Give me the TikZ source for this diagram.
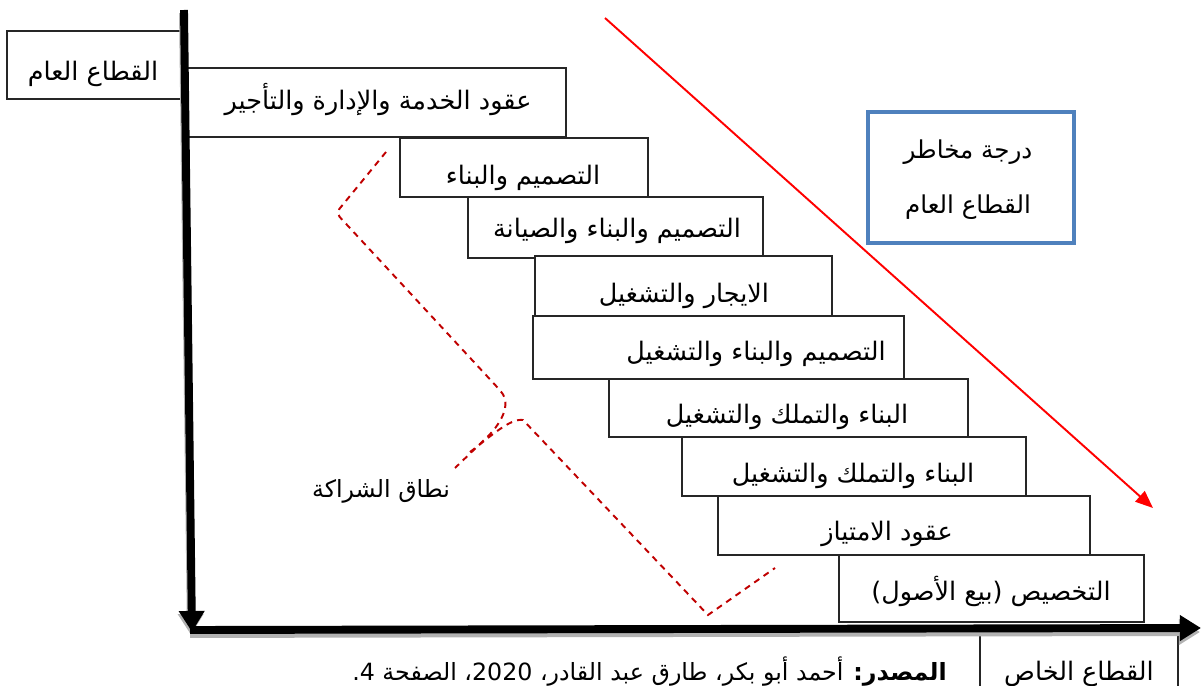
\documentclass[tikz,border=0pt]{standalone}
\usepackage{fontspec}
\setmainfont{DejaVu Sans}
\newfontfamily\arabicfont[Script=Arabic]{DejaVu Sans}
\TeXXeTstate=1
\usetikzlibrary{arrows.meta,calc}
\newcommand{\artxt}[1]{\arabicfont\beginR #1\endR}
\definecolor{riskblue}{HTML}{4F81BD}
\definecolor{darkred}{HTML}{C00000}
\tikzset{
  box/.style={draw=black!85, line width=0.8pt, fill=white, inner sep=0pt},
  lbl/.style={font=\arabicfont\fontsize{14.5}{17}\selectfont, inner sep=0pt, anchor=base},
  small/.style={font=\arabicfont\fontsize{13.5}{16}\selectfont},
  axis/.style={line width=4.5pt, black, -{Triangle[length=12pt,width=14pt]}},
  axshadow/.style={line width=4.5pt, black!30, -{Triangle[length=12pt,width=14pt]}},
  brace/.style={darkred, line width=1.1pt, dash pattern=on 3.5pt off 3pt},
}
\begin{document}
\begin{tikzpicture}[x=0.02cm,y=-0.02cm]
\useasboundingbox (0,0) rectangle (1201,686);
% red risk arrow
\coordinate (ra) at (605,18);
\coordinate (rb) at (1153,508);
\draw[red, line width=1.1pt, -{Triangle[length=10pt,width=8pt]}] (ra) -- (rb);

% boxes
\node[box, minimum width=175*0.02cm, minimum height=68*0.02cm] (L) at (94.5,65) {};
\node[box, minimum width=380*0.02cm, minimum height=69*0.02cm] (B1) at (376,102.5) {};
\node[box, minimum width=248*0.02cm, minimum height=59*0.02cm] (B2) at (524,167.5) {};
\node[box, minimum width=295*0.02cm, minimum height=61*0.02cm] (B3) at (615.5,227.5) {};
\node[box, minimum width=297*0.02cm, minimum height=60*0.02cm] (B4) at (683.5,286) {};
\node[box, minimum width=371*0.02cm, minimum height=63*0.02cm] (B5) at (718.5,347.5) {};
\node[box, minimum width=359*0.02cm, minimum height=58*0.02cm] (B6) at (788.5,408) {};
\node[box, minimum width=344*0.02cm, minimum height=59*0.02cm] (B7) at (854,466.5) {};
\node[box, minimum width=372*0.02cm, minimum height=59*0.02cm] (B8) at (904,525.5) {};
\node[box, minimum width=305*0.02cm, minimum height=67*0.02cm] (B9) at (991.5,588.5) {};
\node[box, minimum width=198*0.02cm, minimum height=70*0.02cm] (R) at (1079,665) {};
\node[draw=riskblue, line width=2.8pt, fill=white, minimum width=206*0.02cm, minimum height=131*0.02cm, inner sep=0pt] (risk) at (971,177.5) {};

% box texts
\node[lbl] (tL) at (93,81) {\artxt{القطاع العام}};
\node[lbl] (t1) at (378,110) {\artxt{عقود الخدمة والإدارة والتأجير}};
\node[lbl] (t2) at (523,185) {\artxt{التصميم والبناء}};
\node[lbl] (t3) at (617,237) {\artxt{التصميم والبناء والصيانة}};
\node[lbl] (t4) at (684,302) {\artxt{الايجار والتشغيل}};
\node[lbl] (t5) at (756,360) {\artxt{التصميم والبناء والتشغيل}};
\node[lbl] (t6) at (787,423) {\artxt{البناء والتملك والتشغيل}};
\node[lbl] (t7) at (853,482) {\artxt{البناء والتملك والتشغيل}};
\node[lbl] (t8) at (887,540) {\artxt{عقود الامتياز}};
\node[lbl] (t9) at (991,600) {\artxt{التخصيص (بيع الأصول)}};
\node[lbl] (tR) at (1079,680) {\artxt{القطاع الخاص}};
\node[lbl, font=\arabicfont\fontsize{14}{16}\selectfont] (tr1) at (968,159) {\artxt{درجة مخاطر}};
\node[lbl, font=\arabicfont\fontsize{14}{16}\selectfont] (tr2) at (968,214) {\artxt{القطاع العام}};
\node[lbl, small] (scope) at (381,497) {\artxt{نطاق الشراكة}};
\node[lbl, small, anchor=base east] (src) at (947,680) {\artxt{\textbf{المصدر:} أحمد أبو بكر، طارق عبد القادر، \beginL 2020\endL، الصفحة \beginL 4\endL.}};

% partnership scope brace
\coordinate (d1) at (386,152);
\coordinate (d2) at (336,213);
\coordinate (d3) at (498,388);
\coordinate (dm) at (455,468);
\coordinate (d4) at (523,420);
\coordinate (d5) at (708,615);
\coordinate (d6) at (775,568);
\draw[brace, rounded corners=3pt] (d1) -- (d2) -- (d3) .. controls (512,405) and (500,425) .. (482,442) -- (dm);
\draw[brace] (470,452) .. controls (490,437) and (510,418) .. (d4) -- (d5) -- (d6);

% axes
\coordinate (vtop) at (184,10);
\coordinate (vbot) at (192,632);
\coordinate (hstart) at (190,630);
\coordinate (hend) at (1201,628);
\draw[axshadow] ($(vtop)+(-1,3)$) -- ($(vbot)+(-1,3)$);
\draw[axshadow] ($(hstart)+(0,4)$) -- ($(hend)+(-1,4)$);
\draw[axis] (vtop) -- (vbot);
\draw[axis] (hstart) -- (hend);
\end{tikzpicture}
\end{document}
